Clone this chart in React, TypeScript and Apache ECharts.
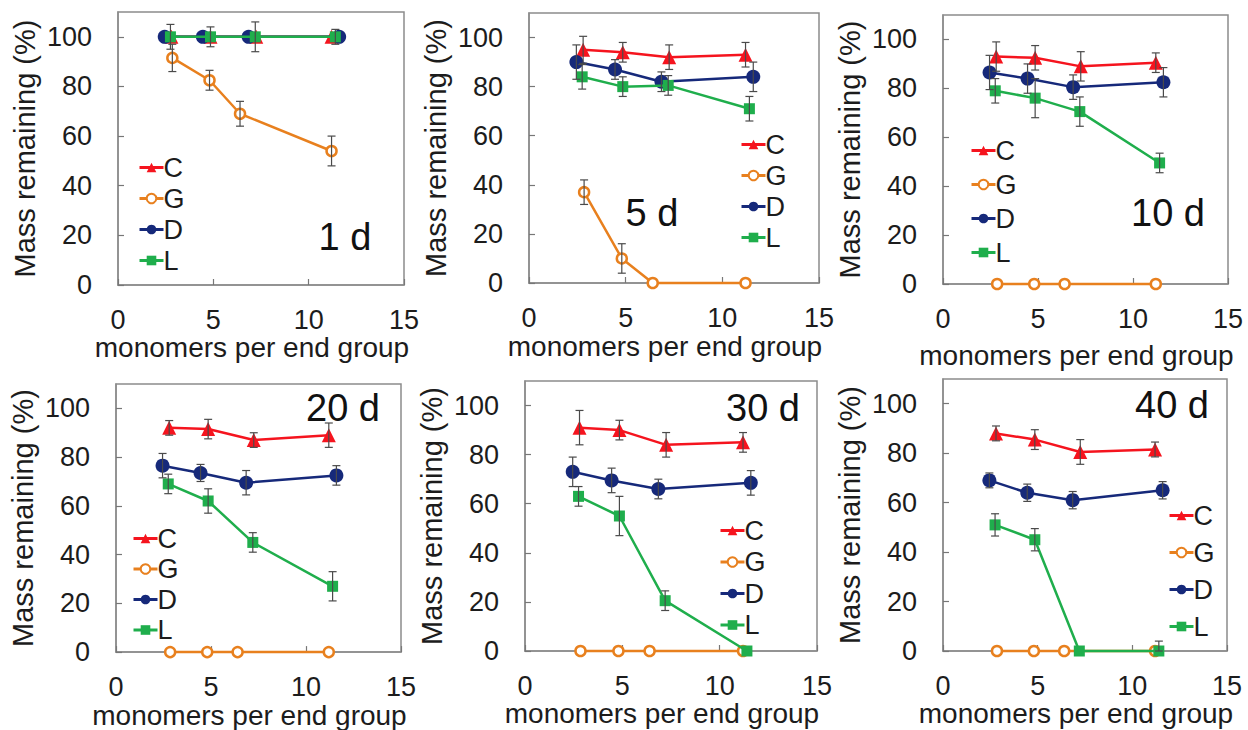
import React, { useEffect, useRef } from 'react';
import * as echarts from 'echarts';

// ---------- data ----------
const PANEL_LABELS = ['1 d', '5 d', '10 d', '20 d', '30 d', '40 d'];
const SERIES_NAMES = ['C', 'G', 'D', 'L'];
const X_AXIS_NAME = 'monomers per end group';
const Y_AXIS_NAME = 'Mass remaining (%)';

// monomers per end group for each polymer
const X_C = [2.8, 4.85, 7.25, 11.2];
const X_G = [2.85, 4.8, 6.4, 11.2];
const X_D = [2.45, 4.45, 6.85, 11.6];
const X_L = [2.75, 4.85, 7.2, 11.4];

// mass remaining (%) per panel (1, 5, 10, 20, 30, 40 d)
const C_VALUES = [
  [100, 100, 100, 100],
  [95, 94, 92, 93],
  [93, 92.5, 89, 90.5],
  [92, 91.5, 87, 89],
  [91, 90, 84, 85],
  [88, 85.5, 80.5, 81.5],
];
const C_ERRORS = [
  [0, 0, 0, 0],
  [5.5, 4, 5, 5],
  [6, 5, 6, 4],
  [3, 4, 3, 5],
  [7, 4, 5, 4],
  [3, 4, 5, 3],
];
const G_VALUES = [
  [91.5, 82.5, 69, 54],
  [37, 10, 0, 0],
  [0, 0, 0, 0],
  [0, 0, 0, 0],
  [0, 0, 0, 0],
  [0, 0, 0, 0],
];
const G_ERRORS = [
  [5.5, 4, 5, 6],
  [5, 6, 0, 0],
  [0, 0, 0, 0],
  [0, 0, 0, 0],
  [0, 0, 0, 0],
  [0, 0, 0, 0],
];
const D_VALUES = [
  [100, 100, 100, 100],
  [90, 87, 82, 84],
  [86.5, 84, 80.5, 82.5],
  [76.5, 73.5, 69.5, 72.5],
  [73, 69.5, 66, 68.5],
  [69, 64, 61, 65],
];
const D_ERRORS = [
  [0, 0, 0, 0],
  [7, 4, 4, 6],
  [7, 6, 5, 6],
  [5, 3.5, 5, 4],
  [6, 5, 4, 5],
  [3, 3.5, 3.5, 3.5],
];
const L_VALUES = [
  [100, 100, 100, 100],
  [84, 80, 80.5, 71],
  [79, 76, 70.5, 49.5],
  [69, 62, 45, 27],
  [63, 55, 20.5, 0],
  [51, 45, 0, 0],
];
const L_ERRORS = [
  [5, 4, 6, 3],
  [5, 4, 4, 5],
  [5, 8, 6, 4],
  [4, 5, 4, 6],
  [4, 8, 4, 0],
  [4.5, 4.5, 0, 4],
];

// ---------- layout / style ----------
const GRIDS = [
  { left: 118, top: 12, width: 286, height: 273 },
  { left: 529, top: 13, width: 290, height: 270 },
  { left: 943, top: 15, width: 285, height: 269 },
  { left: 116, top: 384, width: 285, height: 270 },
  { left: 525, top: 381, width: 292, height: 270 },
  { left: 943, top: 379, width: 284, height: 272 },
];
const LEGENDS = [
  { left: 138, top: 154, gap: 4 },
  { left: 740, top: 131, gap: 4 },
  { left: 970, top: 137, gap: 7 },
  { left: 132, top: 525, gap: 3.5 },
  { left: 719, top: 517, gap: 4.5 },
  { left: 1168, top: 502, gap: 10 },
];
const LABEL_POS = [
  [345, 237],
  [652, 213],
  [1168, 213],
  [343, 408],
  [763, 408],
  [1172, 405],
];
const X_NAME_GAPS = [46, 49, 57, 47, 47, 44];

const FONT = '"Liberation Sans", Arial, Helvetica, sans-serif';
const TEXT_COLOR = '#1c1c1c';
const BOX_COLOR = '#8c8c8c';

const STYLES: Record<string, any> = {
  C: { color: '#f5141e', symbol: 'triangle', size: 14, fill: '#f5141e', z: 3 },
  G: { color: '#e8801e', symbol: 'circle', size: 10, fill: '#ffffff', z: 4 },
  D: { color: '#16297a', symbol: 'circle', size: 14, fill: '#16297a', z: 5 },
  L: { color: '#1fae4c', symbol: 'rect', size: 11, fill: '#1fae4c', z: 6 },
};

const XS: Record<string, number[]> = { C: X_C, G: X_G, D: X_D, L: X_L };
const VALUES: Record<string, number[][]> = { C: C_VALUES, G: G_VALUES, D: D_VALUES, L: L_VALUES };
const ERRORS: Record<string, number[][]> = { C: C_ERRORS, G: G_ERRORS, D: D_ERRORS, L: L_ERRORS };

function buildOption() {
  const grid: any[] = [];
  const xAxis: any[] = [];
  const yAxis: any[] = [];
  const series: any[] = [];
  const legend: any[] = [];
  const graphic: any[] = [];

  GRIDS.forEach((g, i) => {
    grid.push({
      ...g,
      show: true,
      borderColor: BOX_COLOR,
      borderWidth: 1.5,
      backgroundColor: 'transparent',
    });
    xAxis.push({
      gridIndex: i,
      type: 'value',
      min: 0,
      max: 15,
      interval: 5,
      name: X_AXIS_NAME,
      nameLocation: 'middle',
      nameGap: X_NAME_GAPS[i],
      nameTextStyle: {
        fontSize: 28,
        color: TEXT_COLOR,
        fontFamily: FONT,
        padding: [0, 18, 0, 0],
      },
      axisLine: { show: true, lineStyle: { color: BOX_COLOR, width: 1.5 } },
      axisTick: { show: true, inside: true, length: 6, lineStyle: { color: '#777', width: 1.2 } },
      axisLabel: { fontSize: 27, color: TEXT_COLOR, fontFamily: FONT, margin: 21 },
      splitLine: { show: false },
    });
    yAxis.push({
      gridIndex: i,
      type: 'value',
      min: 0,
      max: 110,
      interval: 20,
      name: Y_AXIS_NAME,
      nameLocation: 'middle',
      nameGap: 79,
      nameTextStyle: { fontSize: 29, color: TEXT_COLOR, fontFamily: FONT },
      axisLine: { show: true, lineStyle: { color: BOX_COLOR, width: 1.5 } },
      axisTick: { show: true, inside: true, length: 6, lineStyle: { color: '#777', width: 1.2 } },
      axisLabel: {
        fontSize: 27,
        color: TEXT_COLOR,
        fontFamily: FONT,
        margin: 26,
        showMaxLabel: false,
        formatter: (v: number) => (v > 100 ? '' : String(v)),
      },
      splitLine: { show: false },
    });

    const errData: number[][] = [];
    SERIES_NAMES.forEach((name) => {
      const st = STYLES[name];
      const xs = XS[name];
      const ys = VALUES[name][i];
      const es = ERRORS[name][i];
      series.push({
        type: 'line',
        name,
        xAxisIndex: i,
        yAxisIndex: i,
        data: xs.map((x, j) => [x, ys[j]]),
        symbol: st.symbol,
        symbolSize: st.size,
        showSymbol: true,
        lineStyle: { color: st.color, width: 2.5 },
        itemStyle: {
          color: st.fill,
          borderColor: st.color,
          borderWidth: name === 'G' ? 2.5 : 0,
        },
        z: st.z,
        emphasis: { disabled: true },
        clip: false,
      });
      xs.forEach((x, j) => {
        if (es[j] > 0) errData.push([x, ys[j], es[j]]);
      });
    });

    series.push({
      type: 'custom',
      name: 'errors' + i,
      xAxisIndex: i,
      yAxisIndex: i,
      data: errData,
      encode: { x: 0, y: 1 },
      z: 8,
      silent: true,
      renderItem: (params: any, api: any) => {
        const x = api.value(0);
        const y = api.value(1);
        const e = api.value(2);
        const hi = api.coord([x, y + e]);
        const lo = api.coord([x, Math.max(0, y - e)]);
        const cap = 4;
        const style = { stroke: '#4a4a4a', lineWidth: 1.2 };
        return {
          type: 'group',
          children: [
            { type: 'line', shape: { x1: hi[0], y1: hi[1], x2: lo[0], y2: lo[1] }, style },
            { type: 'line', shape: { x1: hi[0] - cap, y1: hi[1], x2: hi[0] + cap, y2: hi[1] }, style },
            { type: 'line', shape: { x1: lo[0] - cap, y1: lo[1], x2: lo[0] + cap, y2: lo[1] }, style },
          ],
        };
      },
    });

    const lg = LEGENDS[i];
    legend.push({
      data: SERIES_NAMES,
      orient: 'vertical',
      left: lg.left,
      top: lg.top,
      itemGap: lg.gap,
      itemWidth: 24,
      itemHeight: 12,
      padding: 0,
      selectedMode: false,
      lineStyle: { width: 3 },
      textStyle: { fontSize: 27, color: TEXT_COLOR, fontFamily: FONT, padding: [0, 0, 0, -5] },
    });

    graphic.push({
      type: 'text',
      x: LABEL_POS[i][0],
      y: LABEL_POS[i][1],
      style: {
        text: PANEL_LABELS[i],
        fontSize: 38,
        fontFamily: FONT,
        fill: '#111',
        textAlign: 'center',
        textVerticalAlign: 'middle',
      },
      z: 20,
    });
  });

  return {
    animation: false,
    backgroundColor: '#ffffff',
    grid,
    xAxis,
    yAxis,
    series,
    legend,
    graphic,
  };
}

export default function App() {
  const ref = useRef<HTMLDivElement>(null);
  useEffect(() => {
    if (!ref.current) return;
    const chart = echarts.init(ref.current, undefined, { renderer: 'svg' });
    chart.setOption(buildOption() as any);
    return () => chart.dispose();
  }, []);
  return (
    <div
      ref={ref}
      style={{ position: 'absolute', left: 0, top: 0, width: 1248, height: 730 }}
    />
  );
}
